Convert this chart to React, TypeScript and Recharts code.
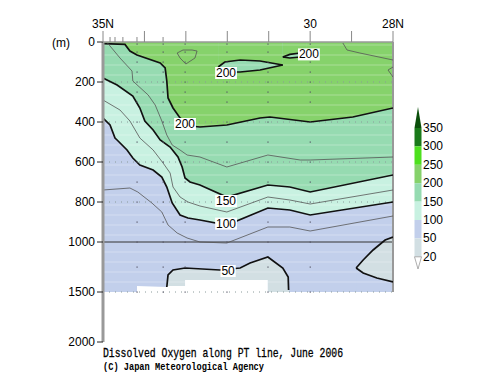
import React from "react";
import {
  ComposedChart,
  Area,
  Line,
  Scatter,
  XAxis,
  YAxis,
  ReferenceLine,
  ReferenceDot,
} from "recharts";

type Pt = [number, number]; // [latitude N, depth m]

// contour depths along the section
const o200: Pt[] = [[35.0, 8], [34.47, 12], [34.35, 45], [34.18, 65], [33.62, 105], [33.5, 130], [33.46, 195], [33.43, 280], [33.31, 330], [33.14, 380], [32.9, 420], [32.66, 425], [32.01, 415], [31.21, 380], [30.97, 375], [30.0, 400], [28.97, 375], [28.0, 330]];
const o175: Pt[] = [[34.9, 3], [34.83, 20], [34.59, 80], [34.3, 145], [34.28, 195], [33.91, 265], [33.74, 315], [33.58, 395], [33.46, 465], [33.33, 515], [33.14, 540], [32.97, 565], [32.66, 575], [32.01, 625], [31.02, 565], [30.24, 590], [30.0, 590], [28.0, 575]];
const o150: Pt[] = [[35.0, 180], [34.66, 215], [34.28, 270], [34.11, 330], [33.99, 395], [33.79, 440], [33.62, 490], [33.38, 525], [33.19, 575], [33.09, 625], [33.02, 680], [32.9, 700], [32.66, 715], [32.01, 775], [31.02, 715], [30.49, 725], [30.0, 750], [28.0, 665]];
const o125: Pt[] = [[35.0, 290], [34.59, 340], [34.35, 395], [34.11, 480], [33.79, 540], [33.55, 605], [33.38, 655], [33.31, 725], [33.14, 775], [32.95, 800], [32.66, 820], [32.01, 850], [31.02, 775], [30.49, 790], [30.0, 810], [28.0, 740]];
const o100: Pt[] = [[35.0, 380], [34.83, 415], [34.71, 480], [34.66, 490], [34.42, 540], [34.28, 580], [34.11, 615], [33.79, 640], [33.58, 675], [33.46, 725], [33.33, 805], [33.14, 865], [32.95, 880], [32.66, 890], [32.01, 915], [31.02, 830], [30.49, 840], [30.0, 865], [28.0, 800]];
const o75: Pt[] = [[35.0, 740], [34.35, 730], [34.16, 750], [33.82, 805], [33.58, 850], [33.43, 915], [33.21, 955], [32.97, 980], [32.66, 1000], [32.01, 1010], [31.02, 925], [30.49, 925], [30.0, 945], [28.0, 870]];
const bubbleTop: Pt[] = [[33.46, 1450], [33.43, 1330], [33.31, 1280], [33.02, 1260], [32.18, 1280], [31.69, 1260], [31.45, 1210], [31.02, 1150], [30.66, 1260], [30.53, 1350], [30.52, 1480]];
const cornerTop: Pt[] = [[28.89, 1260], [28.72, 1180], [28.48, 1080], [28.19, 990], [28.0, 975]];
const cornerBottom: Pt[] = [[28.89, 1260], [28.72, 1310], [28.39, 1360], [28.0, 1400]];
const tongueTop: Pt[] = [[32.22, 125], [32.06, 100], [31.69, 90], [31.21, 95], [30.66, 115]];
const tongueBottom: Pt[] = [[32.22, 125], [32.06, 150], [31.69, 150], [31.21, 140], [30.66, 115]];
const tongue2Top: Pt[] = [[30.66, 75], [30.49, 62], [30.24, 55], [30.08, 62]];
const tongue2Bottom: Pt[] = [[30.66, 75], [30.49, 80], [30.24, 75], [30.08, 62]];
const heartTop: Pt[] = [[33.21, 55], [33.07, 40], [32.85, 40], [32.73, 45]];
const heartBottom: Pt[] = [[33.21, 55], [33.14, 80], [33.0, 110], [32.78, 80], [32.73, 45]];
const edge225: Pt[] = [[29.21, 5], [29.11, 40], [28.8, 55], [28.0, 90]];
const loopA: Pt[] = [[28.12, 140], [28.0, 125]];
const loopB: Pt[] = [[28.12, 140], [28.0, 175]];
// deepest observed depth (white below)
const dataBottom: Pt[] = [[35.0, 1500], [34.18, 1500], [34.18, 1440], [33.02, 1440], [33.02, 1380], [31.02, 1380], [31.02, 1500], [28.0, 1500]];
const bubbleFill: Pt[] = [[33.46, 1440], [33.02, 1440], [33.02, 1380], [31.02, 1380], [31.02, 1500], [30.51, 1500]];
const o50: Pt[] = [[35.0, 1500], [34.18, 1500], [34.18, 1440], ...bubbleTop, [28.89, 1500], ...cornerTop];

const stations = [34.18, 33.55, 33.02, 32.01, 31.02, 30.0];
const sampleDepths = [10, 50, 100, 150, 200, 250, 300, 400, 500, 600, 700, 800, 900, 1000, 1250, 1500];

const majorLats = [35, 34, 33, 32, 31, 30, 29, 28];
const minorLats = [34.83, 34.71, 34.52, 34.18, 33.55];
const latLabels: Record<number, string> = { 35: "35N", 30: "30", 28: "28N" };
const depthTicks = [0, 200, 400, 600, 800, 1000, 1500, 2000];
const gridDepths = [200, 400, 600, 800, 1500];
const stripeDepths = [15, 65, 115, 165, 215, 265, 315, 365, 415, 465, 515, 565, 615, 665, 715, 765, 815, 865, 915, 965, 1100, 1200, 1300, 1400];

const labels = [
  { lat: 33.02, depth: 410, text: "200" },
  { lat: 32.03, depth: 155, text: "200" },
  { lat: 30.03, depth: 62, text: "200" },
  { lat: 32.03, depth: 795, text: "150" },
  { lat: 32.03, depth: 908, text: "100" },
  { lat: 31.98, depth: 1290, text: "50" },
];

const legendLevels = ["350", "300", "250", "200", "150", "100", "50", "20"];
const legendColors = ["#1a7a1a", "#4ee01e", "#86d26b", "#96dbb1", "#c8f1e1", "#c2cfeb", "#d2dfe3"];

const C20 = "#d2dfe3";
const C50 = "#c2cfeb";
const C100 = "#c8f1e1";
const C150 = "#96dbb1";
const C200 = "#86d26b";

// depths below 1000 m are drawn at half scale
const toAxis = (d: number) => (d <= 1000 ? d : 1000 + (d - 1000) / 2);
const fromAxis = (u: number) => (u <= 1000 ? u : 1000 + (u - 1000) * 2);

const series: Record<string, Pt[]> = {
  dataBottom, bubbleFill, cornerBottom, o50, o100, o150, o200,
  tongueTop, tongueBottom, tongue2Top, tongue2Bottom,
  bubbleTop, cornerTop, o175, o125, o75, heartTop, heartBottom, edge225, loopA, loopB,
};

const rows = Object.entries(series)
  .flatMap(([key, pts]) => pts.map(([lat, d]) => ({ lat, [key]: toAxis(d) })))
  .sort((a, b) => b.lat - a.lat);

const samples = stations.flatMap((lat) => sampleDepths.map((d) => ({ lat, u: toAxis(d) })));

const FONT = "'Liberation Sans', Arial, sans-serif";
const MONO = "'Liberation Mono', monospace";

const LatTick = (props: any) => {
  const { x, y, payload } = props;
  const v = payload.value as number;
  const major = majorLats.includes(v);
  const label = latLabels[v];
  return (
    <g>
      <line x1={x} x2={x} y1={y} y2={y - (major ? 11 : 5)} stroke="#888" strokeWidth={1} />
      {label && (
        <text x={x} y={y - 14} textAnchor="middle" fontSize={12} fontFamily={FONT} fill="#000">
          {label}
        </text>
      )}
    </g>
  );
};

const fillArea = (key: string, color: string) => (
  <Area
    key={key}
    dataKey={key}
    type="linear"
    baseValue={0}
    stroke="none"
    fill={color}
    fillOpacity={1}
    connectNulls
    dot={false}
    activeDot={false}
    isAnimationActive={false}
  />
);

const contour = (key: string, thick: boolean) => (
  <Line
    key={key + "-line"}
    dataKey={key}
    type="linear"
    stroke={thick ? "#111" : "#555"}
    strokeWidth={thick ? 1.7 : 0.8}
    connectNulls
    dot={false}
    activeDot={false}
    isAnimationActive={false}
  />
);

export default function App() {
  return (
    <div style={{ position: "relative", width: 500, height: 387, margin: -8, background: "#fff" }}>
      <ComposedChart width={500} height={387} data={rows} margin={{ top: 10, right: 107, bottom: 45, left: 63 }}>
        <XAxis
          dataKey="lat"
          type="number"
          orientation="top"
          domain={[28, 35]}
          reversed
          allowDataOverflow
          ticks={[...majorLats, ...minorLats]}
          interval={0}
          height={32}
          tickSize={0}
          tickMargin={0}
          tick={<LatTick />}
          axisLine={{ stroke: "#999", strokeWidth: 1.5 }}
        />
        <YAxis
          type="number"
          domain={[0, 1500]}
          reversed
          allowDataOverflow
          ticks={depthTicks.map(toAxis)}
          interval={0}
          tickFormatter={(u: number) => String(fromAxis(u))}
          width={40}
          tickSize={6}
          tickMargin={2}
          tick={{ fontSize: 12, fill: "#000", fontFamily: FONT }}
          tickLine={{ stroke: "#222" }}
          axisLine={{ stroke: "#999", strokeWidth: 3 }}
        />
        {fillArea("dataBottom", C50)}
        {fillArea("bubbleFill", C20)}
        {fillArea("cornerBottom", C20)}
        {fillArea("o50", C50)}
        {fillArea("o100", C100)}
        {fillArea("o150", C150)}
        {fillArea("o200", C200)}
        {fillArea("tongueBottom", C150)}
        {fillArea("tongueTop", C200)}
        {fillArea("tongue2Bottom", C150)}
        {fillArea("tongue2Top", C200)}

        {stripeDepths.map((d) => (
          <ReferenceLine
            key={"s" + d}
            segment={[{ x: 35, y: toAxis(d) }, { x: 28, y: toAxis(d) }]}
            stroke="#fff"
            strokeOpacity={0.3}
            strokeWidth={1}
          />
        ))}
        {gridDepths.map((d) => (
          <ReferenceLine key={"g" + d} y={toAxis(d)} stroke="#8a9a9a" strokeDasharray="1 5" strokeWidth={1} />
        ))}
        <ReferenceLine y={1000} stroke="#333" strokeWidth={1} />
        <ReferenceLine
          segment={[{ x: 28, y: 0 }, { x: 28, y: toAxis(1500) }]}
          stroke="#999"
          strokeWidth={2}
        />

        <Scatter
          data={samples}
          dataKey="u"
          isAnimationActive={false}
          shape={(p: any) => <rect x={p.cx - 0.5} y={p.cy - 0.5} width={1.2} height={1.2} fill="#556" />}
        />

        {contour("o200", true)}
        {contour("o150", true)}
        {contour("o100", true)}
        {contour("bubbleTop", true)}
        {contour("cornerTop", true)}
        {contour("cornerBottom", true)}
        {contour("tongueTop", true)}
        {contour("tongueBottom", true)}
        {contour("tongue2Top", true)}
        {contour("tongue2Bottom", true)}
        {contour("o175", false)}
        {contour("o125", false)}
        {contour("o75", false)}
        {contour("heartTop", false)}
        {contour("heartBottom", false)}
        {contour("edge225", false)}
        {contour("loopA", false)}
        {contour("loopB", false)}

        {labels.map((l, i) => (
          <ReferenceDot
            key={"l" + i}
            x={l.lat}
            y={toAxis(l.depth)}
            r={0}
            shape={(p: any) => {
              const w = l.text.length * 6.6 + 2;
              return (
                <g>
                  <rect x={p.cx - w / 2} y={p.cy - 6} width={w} height={12} fill="#fff" />
                  <text x={p.cx} y={p.cy + 4} textAnchor="middle" fontSize={12} fontFamily={FONT} fill="#000">
                    {l.text}
                  </text>
                </g>
              );
            }}
          />
        ))}
      </ComposedChart>

      <svg width={500} height={387} style={{ position: "absolute", left: 0, top: 0, pointerEvents: "none" }}>
        <text x={52} y={47} fontSize={12} fontFamily={FONT} fill="#000">(m)</text>

        <polygon points="418,107 414.5,128 421.5,128" fill="#0b4f0b" />
        {legendColors.map((c, i) => (
          <rect key={c} x={414.5} y={128 + i * 18.4} width={7} height={18.4} fill={c} />
        ))}
        <polygon points="414.5,256.8 421.5,256.8 418,269" fill="#fff" stroke="#999" strokeWidth={0.8} />
        {legendLevels.map((t, i) => (
          <text key={t} x={423} y={132 + i * 18.4} fontSize={12} fontFamily={FONT} fill="#000">
            {t}
          </text>
        ))}

        <text x={103} y={357} fontSize={13} fontFamily={MONO} fill="#000" stroke="#000" strokeWidth={0.3} textLength={240} lengthAdjust="spacingAndGlyphs">
          Dissolved Oxygen along PT line, June 2006
        </text>
        <text x={103} y={370} fontSize={11} fontWeight="bold" fontFamily={MONO} fill="#000" textLength={161} lengthAdjust="spacingAndGlyphs">
          (C) Japan Meteorological Agency
        </text>
      </svg>
    </div>
  );
}
